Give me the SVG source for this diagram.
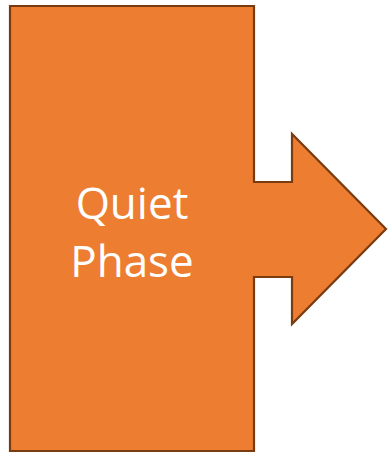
<svg xmlns="http://www.w3.org/2000/svg" width="388" height="453" viewBox="0 0 388 453">
<style>
.shape{fill:#ED7D31;stroke:#7A3B10;stroke-width:2.2;stroke-linejoin:miter}
.lbl{font-family:"Open Sans","Noto Sans","Liberation Sans",sans-serif;font-size:44px;fill:#FFFFFF;text-anchor:middle}
</style>
<g id="quiet-phase">
<path class="shape" d="M10,6 H254 V182 H292 V134 L386,229 L292,324 V277 H254 V451 H10 Z"/>
<text class="lbl" x="132" y="219">Quiet</text>
<text class="lbl" x="132" y="277">Phase</text>
</g>
<g id="connectors"/>
</svg>
